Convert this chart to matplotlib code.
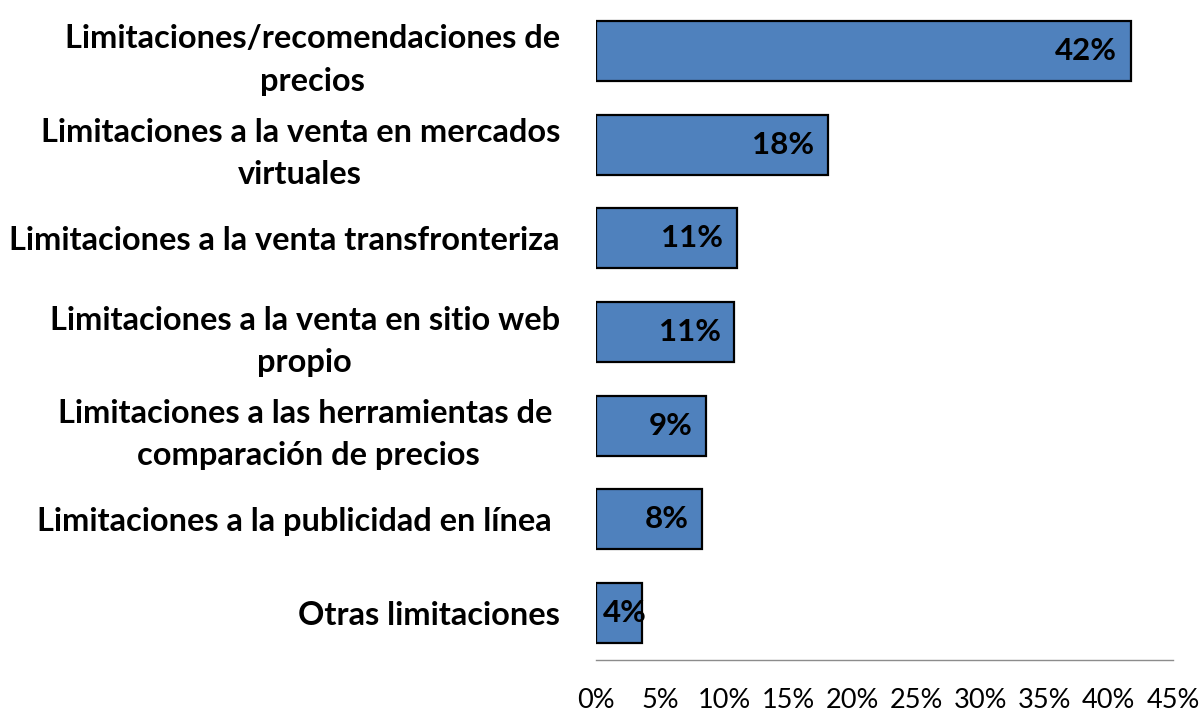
import matplotlib
matplotlib.use("Agg")
import matplotlib.pyplot as plt
from matplotlib.ticker import FuncFormatter, MultipleLocator

categories = [
    "Limitaciones/recomendaciones de\nprecios",
    "Limitaciones a la venta en mercados\nvirtuales",
    "Limitaciones a la venta transfronteriza",
    "Limitaciones a la venta en sitio web\npropio",
    "Limitaciones a las herramientas de \ncomparación de precios",
    "Limitaciones a la publicidad en línea ",
    "Otras limitaciones",
]
values = [41.7, 18.1, 11.0, 10.8, 8.6, 8.3, 3.6]
labels = ["42%", "18%", "11%", "11%", "9%", "8%", "4%"]

plt.rcParams["font.family"] = ["Lato", "DejaVu Sans"]

fig = plt.figure(figsize=(12.03, 7.11), dpi=100)
ax = fig.add_axes([596 / 1203, 1 - 660 / 711, (1173 - 596) / 1203, (660 - 4) / 711])

ypos = list(range(len(categories)))
ax.barh(ypos, values, height=0.64, color="#4F81BD", edgecolor="black", linewidth=1.6)

ax.set_xlim(0, 45)
ax.set_ylim(len(categories) - 0.5, -0.5)
ax.xaxis.set_major_locator(MultipleLocator(5))
ax.xaxis.set_major_formatter(FuncFormatter(lambda v, p: f"{int(round(v))}%"))

for s in ["top", "right", "left"]:
    ax.spines[s].set_visible(False)
ax.spines["bottom"].set_color("#8C8C8C")
ax.spines["bottom"].set_linewidth(1.0)

ax.tick_params(axis="x", length=0, pad=20, labelsize=19.5)
ax.tick_params(axis="y", length=0, pad=26)
ax.set_yticks(ypos)
ax.set_yticklabels(categories, fontsize=23.4, fontweight="bold",
                   multialignment="center", linespacing=1.55)

for y, v, lab in zip(ypos, values, labels):
    if v < 6:
        ax.annotate(lab, xy=(0, y), xytext=(5, 0), textcoords="offset points",
                    ha="left", va="center", fontsize=22.5, fontweight="bold")
    else:
        ax.annotate(lab, xy=(v, y), xytext=(-10, 0), textcoords="offset points",
                    ha="right", va="center", fontsize=22.5, fontweight="bold")

fig.savefig("out.png", dpi=100)
